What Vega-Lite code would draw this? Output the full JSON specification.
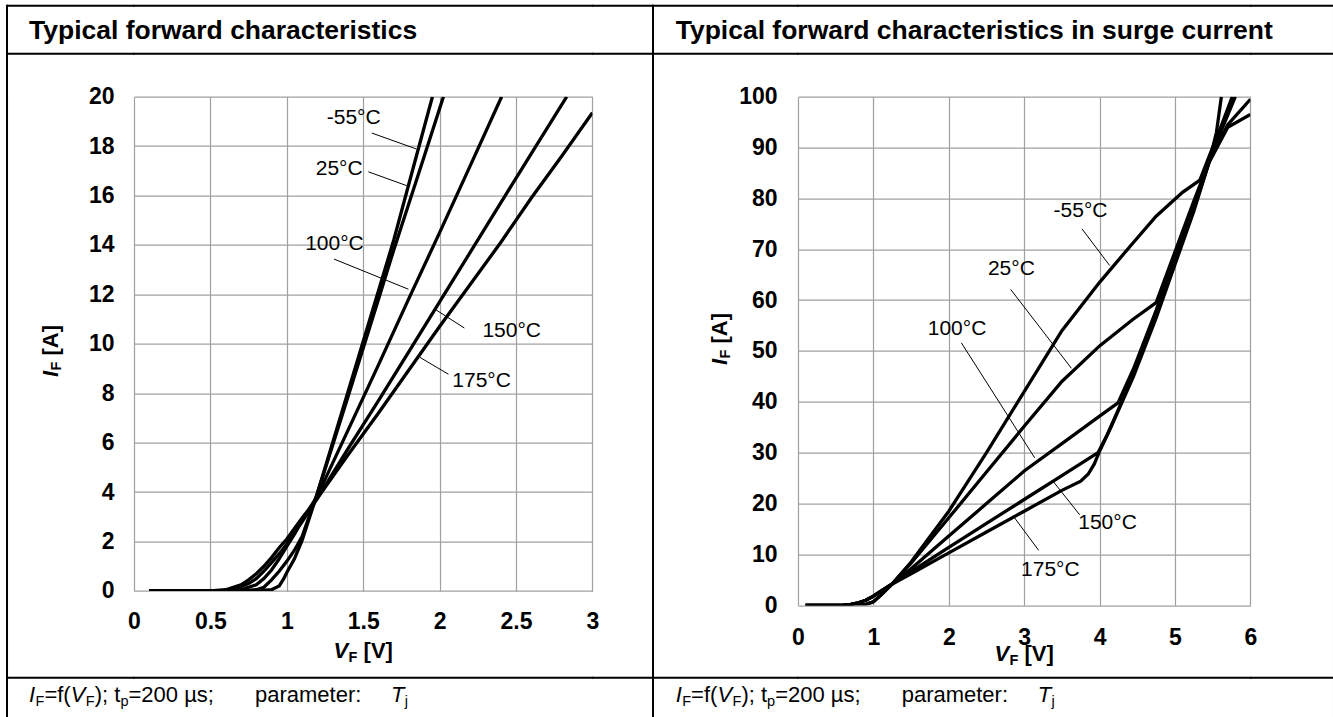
{
  "$schema": "https://vega.github.io/schema/vega-lite/v6.json",
  "padding": {"left": 6, "top": 4.7, "right": 0, "bottom": 0},
  "background": "white",
  "config": {
    "font": "Liberation Sans",
    "view": {"stroke": null},
    "text": {"color": "black"}
  },
  "data": {"values": []},
  "datasets": {
    "fwd": [
      {"series": "-55", "V": 0.1, "I": 0}, {"series": "-55", "V": 0.8, "I": 0}, {"series": "-55", "V": 0.9, "I": 0.05}, {"series": "-55", "V": 0.95, "I": 0.2}, {"series": "-55", "V": 0.98, "I": 0.5}, {"series": "-55", "V": 1.0, "I": 0.75}, {"series": "-55", "V": 1.05, "I": 1.3}, {"series": "-55", "V": 1.1, "I": 2.05}, {"series": "-55", "V": 1.2, "I": 3.95}, {"series": "-55", "V": 1.4, "I": 8.05}, {"series": "-55", "V": 1.6, "I": 12.15}, {"series": "-55", "V": 1.7, "I": 14.2}, {"series": "-55", "V": 1.8, "I": 16.5}, {"series": "-55", "V": 1.953, "I": 20},
      {"series": "25", "V": 0.1, "I": 0}, {"series": "25", "V": 0.7, "I": 0}, {"series": "25", "V": 0.8, "I": 0.05}, {"series": "25", "V": 0.85, "I": 0.15}, {"series": "25", "V": 0.9, "I": 0.45}, {"series": "25", "V": 0.95, "I": 0.8}, {"series": "25", "V": 1.0, "I": 1.2}, {"series": "25", "V": 1.05, "I": 1.65}, {"series": "25", "V": 1.1, "I": 2.2}, {"series": "25", "V": 1.2, "I": 3.95}, {"series": "25", "V": 1.4, "I": 7.85}, {"series": "25", "V": 1.6, "I": 11.8}, {"series": "25", "V": 1.7, "I": 13.8}, {"series": "25", "V": 1.8, "I": 15.7}, {"series": "25", "V": 1.9, "I": 17.6}, {"series": "25", "V": 2.025, "I": 20},
      {"series": "100", "V": 0.1, "I": 0}, {"series": "100", "V": 0.6, "I": 0}, {"series": "100", "V": 0.7, "I": 0.05}, {"series": "100", "V": 0.8, "I": 0.25}, {"series": "100", "V": 0.85, "I": 0.5}, {"series": "100", "V": 0.9, "I": 0.85}, {"series": "100", "V": 0.95, "I": 1.3}, {"series": "100", "V": 1.0, "I": 1.8}, {"series": "100", "V": 1.05, "I": 2.3}, {"series": "100", "V": 1.1, "I": 2.85}, {"series": "100", "V": 1.2, "I": 3.85}, {"series": "100", "V": 1.4, "I": 6.5}, {"series": "100", "V": 1.6, "I": 9.15}, {"series": "100", "V": 1.8, "I": 11.85}, {"series": "100", "V": 2.0, "I": 14.5}, {"series": "100", "V": 2.2, "I": 17.2}, {"series": "100", "V": 2.406, "I": 20},
      {"series": "150", "V": 0.1, "I": 0}, {"series": "150", "V": 0.55, "I": 0}, {"series": "150", "V": 0.65, "I": 0.05}, {"series": "150", "V": 0.75, "I": 0.3}, {"series": "150", "V": 0.8, "I": 0.5}, {"series": "150", "V": 0.85, "I": 0.8}, {"series": "150", "V": 0.9, "I": 1.15}, {"series": "150", "V": 0.95, "I": 1.5}, {"series": "150", "V": 1.0, "I": 1.9}, {"series": "150", "V": 1.1, "I": 2.8}, {"series": "150", "V": 1.2, "I": 3.75}, {"series": "150", "V": 1.4, "I": 5.75}, {"series": "150", "V": 1.6, "I": 7.7}, {"series": "150", "V": 1.8, "I": 9.7}, {"series": "150", "V": 2.0, "I": 11.7}, {"series": "150", "V": 2.2, "I": 13.7}, {"series": "150", "V": 2.4, "I": 15.7}, {"series": "150", "V": 2.6, "I": 17.7}, {"series": "150", "V": 2.832, "I": 20},
      {"series": "175", "V": 0.1, "I": 0}, {"series": "175", "V": 0.5, "I": 0}, {"series": "175", "V": 0.6, "I": 0.05}, {"series": "175", "V": 0.7, "I": 0.25}, {"series": "175", "V": 0.75, "I": 0.45}, {"series": "175", "V": 0.8, "I": 0.7}, {"series": "175", "V": 0.85, "I": 1.0}, {"series": "175", "V": 0.9, "I": 1.35}, {"series": "175", "V": 0.95, "I": 1.75}, {"series": "175", "V": 1.0, "I": 2.1}, {"series": "175", "V": 1.1, "I": 2.95}, {"series": "175", "V": 1.2, "I": 3.75}, {"series": "175", "V": 1.4, "I": 5.5}, {"series": "175", "V": 1.6, "I": 7.2}, {"series": "175", "V": 1.8, "I": 8.95}, {"series": "175", "V": 2.0, "I": 10.7}, {"series": "175", "V": 2.2, "I": 12.4}, {"series": "175", "V": 2.4, "I": 14.1}, {"series": "175", "V": 2.6, "I": 15.9}, {"series": "175", "V": 2.8, "I": 17.6}, {"series": "175", "V": 3.0, "I": 19.35}
    ],
    "fwdLabels": [
      {"label": "-55°C", "V": 1.438, "I": 19.15},
      {"label": "25°C", "V": 1.343, "I": 17.08},
      {"label": "100°C", "V": 1.312, "I": 14.05},
      {"label": "150°C", "V": 2.472, "I": 10.5},
      {"label": "175°C", "V": 2.275, "I": 8.48}
    ],
    "fwdLeaders": [
      {"V": 1.556, "I": 18.53, "V2": 1.85, "I2": 17.88},
      {"V": 1.534, "I": 16.96, "V2": 1.785, "I2": 16.4},
      {"V": 1.309, "I": 13.43, "V2": 1.796, "I2": 12.21},
      {"V": 1.97, "I": 11.4, "V2": 2.162, "I2": 10.64},
      {"V": 1.872, "I": 9.45, "V2": 2.058, "I2": 8.77}
    ],
    "surge": [
      {"series": "-55", "V": 0.1, "I": 0}, {"series": "-55", "V": 0.7, "I": 0}, {"series": "-55", "V": 0.8, "I": 0.05}, {"series": "-55", "V": 0.9, "I": 0.2}, {"series": "-55", "V": 1.0, "I": 0.7}, {"series": "-55", "V": 1.1, "I": 2.0}, {"series": "-55", "V": 1.25, "I": 4.2}, {"series": "-55", "V": 1.5, "I": 8.5}, {"series": "-55", "V": 2.0, "I": 18.5}, {"series": "-55", "V": 2.5, "I": 30}, {"series": "-55", "V": 3.0, "I": 42}, {"series": "-55", "V": 3.5, "I": 54}, {"series": "-55", "V": 4.0, "I": 63.5}, {"series": "-55", "V": 4.4, "I": 70.5}, {"series": "-55", "V": 4.75, "I": 76.5}, {"series": "-55", "V": 5.1, "I": 81.2}, {"series": "-55", "V": 5.33, "I": 83.6}, {"series": "-55", "V": 5.48, "I": 89.3}, {"series": "-55", "V": 5.62, "I": 94.5}, {"series": "-55", "V": 5.76, "I": 100},
      {"series": "25", "V": 0.1, "I": 0}, {"series": "25", "V": 0.7, "I": 0}, {"series": "25", "V": 0.8, "I": 0.05}, {"series": "25", "V": 0.9, "I": 0.2}, {"series": "25", "V": 1.0, "I": 0.7}, {"series": "25", "V": 1.1, "I": 2.0}, {"series": "25", "V": 1.25, "I": 4.2}, {"series": "25", "V": 1.5, "I": 8.3}, {"series": "25", "V": 2.0, "I": 17.2}, {"series": "25", "V": 2.5, "I": 26.2}, {"series": "25", "V": 3.0, "I": 35.2}, {"series": "25", "V": 3.5, "I": 44}, {"series": "25", "V": 4.0, "I": 51}, {"series": "25", "V": 4.44, "I": 56.2}, {"series": "25", "V": 4.75, "I": 59.5}, {"series": "25", "V": 5.0, "I": 69.5}, {"series": "25", "V": 5.25, "I": 79.5}, {"series": "25", "V": 5.45, "I": 87.2}, {"series": "25", "V": 5.7, "I": 94.5}, {"series": "25", "V": 6.0, "I": 99.5},
      {"series": "100", "V": 0.1, "I": 0}, {"series": "100", "V": 0.5, "I": 0}, {"series": "100", "V": 0.6, "I": 0.05}, {"series": "100", "V": 0.7, "I": 0.2}, {"series": "100", "V": 0.8, "I": 0.5}, {"series": "100", "V": 0.9, "I": 1.0}, {"series": "100", "V": 1.0, "I": 1.8}, {"series": "100", "V": 1.1, "I": 2.8}, {"series": "100", "V": 1.25, "I": 4.2}, {"series": "100", "V": 1.5, "I": 7.2}, {"series": "100", "V": 2.0, "I": 13.6}, {"series": "100", "V": 2.5, "I": 20}, {"series": "100", "V": 3.0, "I": 26.4}, {"series": "100", "V": 3.5, "I": 31.8}, {"series": "100", "V": 4.0, "I": 37.2}, {"series": "100", "V": 4.244, "I": 39.8}, {"series": "100", "V": 4.45, "I": 46.5}, {"series": "100", "V": 4.75, "I": 58}, {"series": "100", "V": 5.0, "I": 68.5}, {"series": "100", "V": 5.25, "I": 78.5}, {"series": "100", "V": 5.45, "I": 87}, {"series": "100", "V": 5.62, "I": 93.5}, {"series": "100", "V": 5.8, "I": 100},
      {"series": "150", "V": 0.1, "I": 0}, {"series": "150", "V": 0.5, "I": 0}, {"series": "150", "V": 0.6, "I": 0.05}, {"series": "150", "V": 0.7, "I": 0.2}, {"series": "150", "V": 0.8, "I": 0.5}, {"series": "150", "V": 0.9, "I": 1.0}, {"series": "150", "V": 1.0, "I": 1.8}, {"series": "150", "V": 1.1, "I": 2.8}, {"series": "150", "V": 1.25, "I": 4.2}, {"series": "150", "V": 1.5, "I": 6.6}, {"series": "150", "V": 2.0, "I": 11.4}, {"series": "150", "V": 2.5, "I": 16.1}, {"series": "150", "V": 3.0, "I": 20.8}, {"series": "150", "V": 3.5, "I": 25.5}, {"series": "150", "V": 3.979, "I": 30}, {"series": "150", "V": 4.1, "I": 33.5}, {"series": "150", "V": 4.25, "I": 38.5}, {"series": "150", "V": 4.45, "I": 45.5}, {"series": "150", "V": 4.75, "I": 57}, {"series": "150", "V": 5.0, "I": 67.5}, {"series": "150", "V": 5.25, "I": 78}, {"series": "150", "V": 5.45, "I": 87}, {"series": "150", "V": 5.7, "I": 94}, {"series": "150", "V": 6.0, "I": 96.5},
      {"series": "175", "V": 0.1, "I": 0}, {"series": "175", "V": 0.5, "I": 0}, {"series": "175", "V": 0.6, "I": 0.05}, {"series": "175", "V": 0.7, "I": 0.2}, {"series": "175", "V": 0.8, "I": 0.5}, {"series": "175", "V": 0.9, "I": 1.0}, {"series": "175", "V": 1.0, "I": 1.8}, {"series": "175", "V": 1.1, "I": 2.8}, {"series": "175", "V": 1.25, "I": 4.2}, {"series": "175", "V": 1.5, "I": 6.2}, {"series": "175", "V": 2.0, "I": 10.3}, {"series": "175", "V": 2.5, "I": 14.4}, {"series": "175", "V": 3.0, "I": 18.5}, {"series": "175", "V": 3.5, "I": 22.6}, {"series": "175", "V": 3.75, "I": 24.4}, {"series": "175", "V": 3.85, "I": 25.8}, {"series": "175", "V": 3.93, "I": 27.8}, {"series": "175", "V": 4.0, "I": 30.3}, {"series": "175", "V": 4.15, "I": 35}, {"series": "175", "V": 4.3, "I": 40}, {"series": "175", "V": 4.45, "I": 45}, {"series": "175", "V": 4.75, "I": 56.5}, {"series": "175", "V": 5.0, "I": 67}, {"series": "175", "V": 5.25, "I": 77.5}, {"series": "175", "V": 5.45, "I": 87}, {"series": "175", "V": 5.55, "I": 93}, {"series": "175", "V": 5.615, "I": 100}
    ],
    "surgeLabels": [
      {"label": "-55°C", "V": 3.747, "I": 77.6},
      {"label": "25°C", "V": 2.83, "I": 66.2},
      {"label": "100°C", "V": 2.109, "I": 54.4},
      {"label": "150°C", "V": 4.105, "I": 16.2},
      {"label": "175°C", "V": 3.347, "I": 6.85}
    ],
    "surgeLeaders": [
      {"V": 3.767, "I": 74.0, "V2": 4.134, "I2": 66.8},
      {"V": 2.821, "I": 62.1, "V2": 3.626, "I2": 46.6},
      {"V": 2.167, "I": 51.6, "V2": 3.139, "I2": 29.0},
      {"V": 3.736, "I": 17.8, "V2": 3.382, "I2": 24.4},
      {"V": 3.192, "I": 10.8, "V2": 2.852, "I2": 17.6}
    ]
  },
  "columns": 9,
  "spacing": 0,
  "bounds": "flush",
  "align": "each",
  "concat": [
    {"width": 0.01, "height": 47.6, "view": {"stroke": "black", "strokeWidth": 2}, "mark": "text"},
    {"width": 125.3, "height": 0.01, "view": {"stroke": "black", "strokeWidth": 2},
     "data": {"values": [{"t": "Typical forward characteristics"}]},
     "mark": {"type": "text", "align": "left", "baseline": "alphabetic", "fontSize": 26.5, "fontWeight": "bold", "dx": -41.65, "dy": 33.6},
     "encoding": {"text": {"field": "t"}}},
    {"width": 458.4, "height": 0.01, "view": {"stroke": "black", "strokeWidth": 2}, "mark": "text"},
    {"width": 59.3, "height": 0.01, "view": {"stroke": "black", "strokeWidth": 2}, "mark": "text"},
    {"width": 0.01, "height": 47.6, "view": {"stroke": "black", "strokeWidth": 2}, "mark": "text"},
    {"width": 143.3, "height": 0.01, "view": {"stroke": "black", "strokeWidth": 2},
     "data": {"values": [{"t": "Typical forward characteristics in surge current"}]},
     "mark": {"type": "text", "align": "left", "baseline": "alphabetic", "fontSize": 26.5, "fontWeight": "bold", "dx": -49.95, "dy": 33.6},
     "encoding": {"text": {"field": "t"}}},
    {"width": 452.4, "height": 0.01, "view": {"stroke": "black", "strokeWidth": 2}, "mark": "text"},
    {"width": 82.3, "height": 0.01, "view": {"stroke": "black", "strokeWidth": 2}, "mark": "text"},
    {"width": 0.01, "height": 47.6, "view": {"stroke": "black", "strokeWidth": 2}, "mark": "text"},

    {"width": 0.01, "height": 42.4, "view": {"stroke": "black", "strokeWidth": 2}, "mark": "text"},
    {"width": 125.3, "height": 0.01, "view": {"stroke": "black", "strokeWidth": 2}, "mark": "text"},
    {"width": 458.4, "height": 0.01, "view": {"stroke": "black", "strokeWidth": 2}, "mark": "text"},
    {"width": 59.3, "height": 0.01, "view": {"stroke": "black", "strokeWidth": 2}, "mark": "text"},
    {"width": 0.01, "height": 42.4, "view": {"stroke": "black", "strokeWidth": 2}, "mark": "text"},
    {"width": 143.3, "height": 0.01, "view": {"stroke": "black", "strokeWidth": 2}, "mark": "text"},
    {"width": 452.4, "height": 0.01, "view": {"stroke": "black", "strokeWidth": 2}, "mark": "text"},
    {"width": 82.3, "height": 0.01, "view": {"stroke": "black", "strokeWidth": 2}, "mark": "text"},
    {"width": 0.01, "height": 42.4, "view": {"stroke": "black", "strokeWidth": 2}, "mark": "text"},

    {"width": 0.01, "height": 581, "view": {"stroke": "black", "strokeWidth": 2}, "mark": "text"},
    {"width": 125.3, "height": 0.01, "mark": "text"},
    {
      "width": 458.4,
      "height": 494.3,
      "data": {"values": [{"t": ""}]},
      "layer": [
        {
          "data": {"name": "fwd"},
          "mark": {"type": "line", "color": "black", "strokeWidth": 3.3, "clip": true},
          "encoding": {
            "x": {
              "field": "V", "type": "quantitative", "title": null,
              "scale": {"domain": [0, 3], "nice": false, "zero": false},
              "axis": {
                "values": [0, 0.25, 0.5, 0.75, 1, 1.25, 1.5, 1.75, 2, 2.25, 2.5, 2.75, 3],
                "format": "~g",
                "labelExpr": "(datum.value * 2) % 1 == 0 ? datum.label : ''",
                "grid": true,
                "gridColor": {"condition": {"test": "(datum.value * 2) % 1 == 0", "value": "#a0a0a0"}, "value": "#d3d3d3"},
                "gridWidth": 1.2,
                "domain": false, "ticks": false, "tickSize": 0,
                "labelPadding": 20, "labelFlush": false, "labelOverlap": false,
                "labelFontSize": 23, "labelFontWeight": "bold", "labelColor": "black"
              }
            },
            "y": {
              "field": "I", "type": "quantitative", "title": null,
              "scale": {"domain": [0, 20], "nice": false},
              "axis": {
                "values": [0, 2, 4, 6, 8, 10, 12, 14, 16, 18, 20],
                "grid": true, "gridColor": "#a0a0a0", "gridWidth": 1.2,
                "domain": false, "ticks": false, "tickSize": 0,
                "labelPadding": 20, "labelFlush": false, "labelOverlap": false,
                "labelFontSize": 23, "labelFontWeight": "bold", "labelColor": "black"
              }
            },
            "detail": {"field": "series", "type": "nominal"}
          }
        },
        {
          "data": {"name": "fwdLeaders"},
          "mark": {"type": "rule", "color": "black", "strokeWidth": 1},
          "encoding": {
            "x": {"field": "V", "type": "quantitative", "title": null},
            "y": {"field": "I", "type": "quantitative", "title": null},
            "x2": {"field": "V2"},
            "y2": {"field": "I2"}
          }
        },
        {
          "data": {"name": "fwdLabels"},
          "mark": {"type": "text", "fontSize": 21, "align": "center", "baseline": "middle"},
          "encoding": {
            "x": {"field": "V", "type": "quantitative", "title": null},
            "y": {"field": "I", "type": "quantitative", "title": null},
            "text": {"field": "label"}
          }
        },
        {"mark": {"type": "text", "align": "left", "baseline": "alphabetic", "fontSize": 22, "fontWeight": "bold", "fontStyle": "italic", "dx": -29.6, "dy": 314.1}, "encoding": {"text": {"value": "V"}}},
        {"mark": {"type": "text", "align": "left", "baseline": "alphabetic", "fontSize": 14.5, "fontWeight": "bold", "dx": -14.6, "dy": 317.8}, "encoding": {"text": {"value": "F"}}},
        {"mark": {"type": "text", "align": "left", "baseline": "alphabetic", "fontSize": 22, "fontWeight": "bold", "dx": 0.36, "dy": 314.1}, "encoding": {"text": {"value": "[V]"}}},
        {"mark": {"type": "text", "align": "left", "baseline": "alphabetic", "angle": 270, "fontSize": 22, "fontWeight": "bold", "fontStyle": "italic", "dx": -33.15, "dy": -305.6}, "encoding": {"text": {"value": "I"}}},
        {"mark": {"type": "text", "align": "left", "baseline": "alphabetic", "angle": 270, "fontSize": 14.5, "fontWeight": "bold", "dx": -26.65, "dy": -301.9}, "encoding": {"text": {"value": "F"}}},
        {"mark": {"type": "text", "align": "left", "baseline": "alphabetic", "angle": 270, "fontSize": 22, "fontWeight": "bold", "dx": -11.7, "dy": -305.6}, "encoding": {"text": {"value": "[A]"}}}
      ]
    },
    {"width": 59.3, "height": 0.01, "mark": "text"},
    {"width": 0.01, "height": 581, "view": {"stroke": "black", "strokeWidth": 2}, "mark": "text"},
    {"width": 143.3, "height": 0.01, "mark": "text"},
    {
      "width": 452.4,
      "height": 508.6,
      "data": {"values": [{"t": ""}]},
      "layer": [
        {
          "data": {"name": "surge"},
          "mark": {"type": "line", "color": "black", "strokeWidth": 3.3, "clip": true},
          "encoding": {
            "x": {
              "field": "V", "type": "quantitative", "title": null,
              "scale": {"domain": [0, 6], "nice": false, "zero": false},
              "axis": {
                "values": [0, 0.5, 1, 1.5, 2, 2.5, 3, 3.5, 4, 4.5, 5, 5.5, 6],
                "format": "~g",
                "labelExpr": "datum.value % 1 == 0 ? datum.label : ''",
                "grid": true,
                "gridColor": {"condition": {"test": "datum.value % 1 == 0", "value": "#a0a0a0"}, "value": "#d3d3d3"},
                "gridWidth": 1.2,
                "domain": false, "ticks": false, "tickSize": 0,
                "labelPadding": 21, "labelFlush": false, "labelOverlap": false,
                "labelFontSize": 23, "labelFontWeight": "bold", "labelColor": "black"
              }
            },
            "y": {
              "field": "I", "type": "quantitative", "title": null,
              "scale": {"domain": [0, 100], "nice": false},
              "axis": {
                "values": [0, 10, 20, 30, 40, 50, 60, 70, 80, 90, 100],
                "grid": true, "gridColor": "#a0a0a0", "gridWidth": 1.2,
                "domain": false, "ticks": false, "tickSize": 0,
                "labelPadding": 21, "labelFlush": false, "labelOverlap": false,
                "labelFontSize": 23, "labelFontWeight": "bold", "labelColor": "black"
              }
            },
            "detail": {"field": "series", "type": "nominal"}
          }
        },
        {
          "data": {"name": "surgeLeaders"},
          "mark": {"type": "rule", "color": "black", "strokeWidth": 1},
          "encoding": {
            "x": {"field": "V", "type": "quantitative", "title": null},
            "y": {"field": "I", "type": "quantitative", "title": null},
            "x2": {"field": "V2"},
            "y2": {"field": "I2"}
          }
        },
        {
          "data": {"name": "surgeLabels"},
          "mark": {"type": "text", "fontSize": 21, "align": "center", "baseline": "middle"},
          "encoding": {
            "x": {"field": "V", "type": "quantitative", "title": null},
            "y": {"field": "I", "type": "quantitative", "title": null},
            "text": {"field": "label"}
          }
        },
        {"mark": {"type": "text", "align": "left", "baseline": "alphabetic", "fontSize": 22, "fontWeight": "bold", "fontStyle": "italic", "dx": -29.6, "dy": 310.5}, "encoding": {"text": {"value": "V"}}},
        {"mark": {"type": "text", "align": "left", "baseline": "alphabetic", "fontSize": 14.5, "fontWeight": "bold", "dx": -14.6, "dy": 314.2}, "encoding": {"text": {"value": "F"}}},
        {"mark": {"type": "text", "align": "left", "baseline": "alphabetic", "fontSize": 22, "fontWeight": "bold", "dx": 0.36, "dy": 310.5}, "encoding": {"text": {"value": "[V]"}}},
        {"mark": {"type": "text", "align": "left", "baseline": "alphabetic", "angle": 270, "fontSize": 22, "fontWeight": "bold", "fontStyle": "italic", "dx": -14, "dy": -297.6}, "encoding": {"text": {"value": "I"}}},
        {"mark": {"type": "text", "align": "left", "baseline": "alphabetic", "angle": 270, "fontSize": 14.5, "fontWeight": "bold", "dx": -7.5, "dy": -293.9}, "encoding": {"text": {"value": "F"}}},
        {"mark": {"type": "text", "align": "left", "baseline": "alphabetic", "angle": 270, "fontSize": 22, "fontWeight": "bold", "dx": 7.46, "dy": -297.6}, "encoding": {"text": {"value": "[A]"}}}
      ]
    },
    {"width": 82.3, "height": 0.01, "mark": "text"},
    {"width": 0.01, "height": 581, "view": {"stroke": "black", "strokeWidth": 2}, "mark": "text"},

    {"width": 0.01, "height": 38.5, "view": {"stroke": "black", "strokeWidth": 2}, "mark": "text"},
    {
      "width": 125.3, "height": 0.01, "view": {"stroke": "black", "strokeWidth": 2},
      "data": {"values": [{"t": ""}]},
      "layer": [
        {"mark": {"type": "text", "align": "left", "baseline": "alphabetic", "fontSize": 22, "fontStyle": "italic", "dx": -41.65, "dy": 24.3}, "encoding": {"text": {"value": "I"}}},
        {"mark": {"type": "text", "align": "left", "baseline": "alphabetic", "fontSize": 14.5, "dx": -35.15, "dy": 28}, "encoding": {"text": {"value": "F"}}},
        {"mark": {"type": "text", "align": "left", "baseline": "alphabetic", "fontSize": 22, "dx": -26.25, "dy": 24.3}, "encoding": {"text": {"value": "=f("}}},
        {"mark": {"type": "text", "align": "left", "baseline": "alphabetic", "fontSize": 22, "fontStyle": "italic", "dx": 0.05, "dy": 24.3}, "encoding": {"text": {"value": "V"}}},
        {"mark": {"type": "text", "align": "left", "baseline": "alphabetic", "fontSize": 14.5, "dx": 15.15, "dy": 28}, "encoding": {"text": {"value": "F"}}},
        {"mark": {"type": "text", "align": "left", "baseline": "alphabetic", "fontSize": 22, "dx": 24.05, "dy": 24.3}, "encoding": {"text": {"value": "); t"}}},
        {"mark": {"type": "text", "align": "left", "baseline": "alphabetic", "fontSize": 14.5, "dx": 49.75, "dy": 28}, "encoding": {"text": {"value": "p"}}},
        {"mark": {"type": "text", "align": "left", "baseline": "alphabetic", "fontSize": 22, "dx": 57.85, "dy": 24.3}, "encoding": {"text": {"value": "=200 µs;"}}},
        {"mark": {"type": "text", "align": "left", "baseline": "alphabetic", "fontSize": 22, "dx": 184.35, "dy": 24.3}, "encoding": {"text": {"value": "parameter:"}}},
        {"mark": {"type": "text", "align": "left", "baseline": "alphabetic", "fontSize": 22, "fontStyle": "italic", "dx": 320.35, "dy": 24.3}, "encoding": {"text": {"value": "T"}}},
        {"mark": {"type": "text", "align": "left", "baseline": "alphabetic", "fontSize": 14.5, "dx": 334.05, "dy": 28}, "encoding": {"text": {"value": "j"}}}
      ]
    },
    {"width": 458.4, "height": 0.01, "view": {"stroke": "black", "strokeWidth": 2}, "mark": "text"},
    {"width": 59.3, "height": 0.01, "view": {"stroke": "black", "strokeWidth": 2}, "mark": "text"},
    {"width": 0.01, "height": 38.5, "view": {"stroke": "black", "strokeWidth": 2}, "mark": "text"},
    {
      "width": 143.3, "height": 0.01, "view": {"stroke": "black", "strokeWidth": 2},
      "data": {"values": [{"t": ""}]},
      "layer": [
        {"mark": {"type": "text", "align": "left", "baseline": "alphabetic", "fontSize": 22, "fontStyle": "italic", "dx": -49.95, "dy": 24.3}, "encoding": {"text": {"value": "I"}}},
        {"mark": {"type": "text", "align": "left", "baseline": "alphabetic", "fontSize": 14.5, "dx": -43.45, "dy": 28}, "encoding": {"text": {"value": "F"}}},
        {"mark": {"type": "text", "align": "left", "baseline": "alphabetic", "fontSize": 22, "dx": -34.55, "dy": 24.3}, "encoding": {"text": {"value": "=f("}}},
        {"mark": {"type": "text", "align": "left", "baseline": "alphabetic", "fontSize": 22, "fontStyle": "italic", "dx": -8.25, "dy": 24.3}, "encoding": {"text": {"value": "V"}}},
        {"mark": {"type": "text", "align": "left", "baseline": "alphabetic", "fontSize": 14.5, "dx": 6.85, "dy": 28}, "encoding": {"text": {"value": "F"}}},
        {"mark": {"type": "text", "align": "left", "baseline": "alphabetic", "fontSize": 22, "dx": 15.75, "dy": 24.3}, "encoding": {"text": {"value": "); t"}}},
        {"mark": {"type": "text", "align": "left", "baseline": "alphabetic", "fontSize": 14.5, "dx": 41.45, "dy": 28}, "encoding": {"text": {"value": "p"}}},
        {"mark": {"type": "text", "align": "left", "baseline": "alphabetic", "fontSize": 22, "dx": 49.55, "dy": 24.3}, "encoding": {"text": {"value": "=200 µs;"}}},
        {"mark": {"type": "text", "align": "left", "baseline": "alphabetic", "fontSize": 22, "dx": 176.05, "dy": 24.3}, "encoding": {"text": {"value": "parameter:"}}},
        {"mark": {"type": "text", "align": "left", "baseline": "alphabetic", "fontSize": 22, "fontStyle": "italic", "dx": 312.05, "dy": 24.3}, "encoding": {"text": {"value": "T"}}},
        {"mark": {"type": "text", "align": "left", "baseline": "alphabetic", "fontSize": 14.5, "dx": 325.75, "dy": 28}, "encoding": {"text": {"value": "j"}}}
      ]
    },
    {"width": 452.4, "height": 0.01, "view": {"stroke": "black", "strokeWidth": 2}, "mark": "text"},
    {"width": 82.3, "height": 0.01, "view": {"stroke": "black", "strokeWidth": 2}, "mark": "text"},
    {"width": 0.01, "height": 38.5, "view": {"stroke": "black", "strokeWidth": 2}, "mark": "text"}
  ]
}
